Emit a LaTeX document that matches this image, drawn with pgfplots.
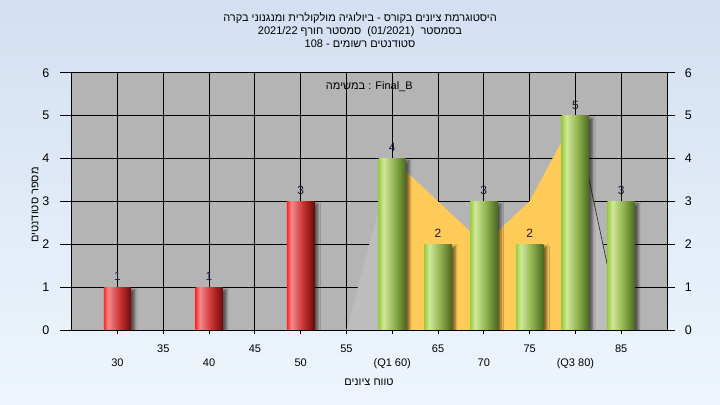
\documentclass[border=0pt]{standalone}
\usepackage{pgfplots}
\pgfplotsset{compat=1.18}
\usepackage{fontspec}
\setmainfont{Liberation Sans}
\newfontfamily\hebfont[Script=Hebrew]{Liberation Sans}
\TeXXeTstate=1
\usetikzlibrary{shadows.blur}

\definecolor{bgtop}{HTML}{D3E0F2}
\definecolor{bgbot}{HTML}{EEF5FC}
\definecolor{plotbg}{HTML}{B4B4B4}
\definecolor{areagray}{HTML}{BDBDBD}
\definecolor{areaorange}{HTML}{FFCB58}
\definecolor{valc}{HTML}{1A1A3A}
\definecolor{rA}{HTML}{FF2525}
\definecolor{rB}{HTML}{F58A8A}
\definecolor{rC}{HTML}{C83030}
\definecolor{rD}{HTML}{6A0A0A}
\definecolor{gA}{HTML}{9CCB40}
\definecolor{gB}{HTML}{D0E898}
\definecolor{gC}{HTML}{8CAF4C}
\definecolor{gD}{HTML}{4A681E}

% cylinder-like horizontal shadings for the bars (visible part 25bp..75bp)
\pgfdeclarehorizontalshading{redbar}{100bp}{color(0bp)=(rA); color(25bp)=(rA); color(33bp)=(rB); color(55bp)=(rC); color(75bp)=(rD); color(100bp)=(rD)}
\pgfdeclarehorizontalshading{greenbar}{100bp}{color(0bp)=(gA); color(25bp)=(gA); color(34bp)=(gB); color(55bp)=(gC); color(75bp)=(gD); color(100bp)=(gD)}

\pgfplotsset{
  cylbar/.style={ybar, bar shift=0pt, bar width=3, draw=none, shade, shading=#1,
    blur shadow={shadow xshift=3.5bp, shadow yshift=-2.5bp, shadow blur radius=2.5bp, shadow opacity=55}},
}

\begin{document}
\begin{tikzpicture}
% page background
\shade[top color=bgtop, bottom color=bgbot] (0bp,0bp) rectangle (720bp,405bp);

% title
\node[anchor=base, font=\fontsize{11bp}{13bp}\selectfont\hebfont, text=black] at (360bp,383bp)
  {\beginR היסטוגרמת ציונים בקורס - ביולוגיה מולקולרית ומנגנוני בקרה\endR};
\node[anchor=base, font=\fontsize{11bp}{13bp}\selectfont\hebfont, text=black] at (360bp,370bp)
  {\beginR בסמסטר \ \beginL(01/2021)\endL{} \ סמסטר חורף \beginL2021/22\endL\endR};
\node[anchor=base, font=\fontsize{11bp}{13bp}\selectfont\hebfont, text=black] at (360bp,357bp)
  {\beginR סטודנטים רשומים - \beginL108\endL\endR};

% axis titles
\node[rotate=90, anchor=center, font=\fontsize{11bp}{13bp}\selectfont\hebfont] at (35bp,200bp)
  {\beginR מספר סטודנטים\endR};
\node[anchor=base, font=\fontsize{11bp}{13bp}\selectfont\hebfont] at (369bp,20bp)
  {\beginR טווח ציונים\endR};

\begin{axis}[
  at={(71.7bp,75bp)}, anchor=south west,
  scale only axis, width=595.3bp, height=257.3bp,
  xmin=25, xmax=90, ymin=0, ymax=6,
  axis background/.style={fill=plotbg},
  axis line style={black, line width=0.9bp},
  grid=major,
  major grid style={black, line width=0.9bp},
  tick align=outside,
  xtick pos=bottom,
  major tick length=4bp,
  every tick/.style={black, line width=0.9bp},
  ytick={0,1,...,6},
  yticklabels={},
  ytick style={draw=none},
  xtick={35,45,55,65,75,85},
  xticklabels={35,45,55,65,75,85},
  extra x ticks={30,40,50,60,70,80},
  extra x tick labels={30,40,50,{(Q1 60)},70,{(Q3 80)}},
  extra x tick style={xticklabel style={yshift=-13.5bp}},
  xticklabel style={anchor=base, yshift=-19bp, font=\fontsize{11bp}{13bp}\selectfont, text=black},
  /pgf/number format/assume math mode=true,
]
% shaded regions behind the bars
\addplot[fill=areagray, draw=none] coordinates {(55,0) (60,4)} \closedcycle;
\addplot[fill=areaorange, draw=none] coordinates {(60,4) (65,3) (70,2) (75,3) (80,5)} \closedcycle;
\addplot[fill=areagray, draw=none] coordinates {(80,5) (85,0)} \closedcycle;
\addplot[draw=black!80, line width=0.7bp] coordinates {(80,5) (85,0)};

% bars, one path each so every bar gets its own cylinder shading
\addplot[cylbar=redbar] coordinates {(30,1)};
\addplot[cylbar=redbar] coordinates {(40,1)};
\addplot[cylbar=redbar] coordinates {(50,3)};
\addplot[cylbar=greenbar] coordinates {(60,4)};
\addplot[cylbar=greenbar] coordinates {(65,2)};
\addplot[cylbar=greenbar] coordinates {(70,3)};
\addplot[cylbar=greenbar] coordinates {(75,2)};
\addplot[cylbar=greenbar] coordinates {(80,5)};
\addplot[cylbar=greenbar] coordinates {(85,3)};

% value labels
\addplot[draw=none, mark=none, nodes near coords, point meta=explicit symbolic,
  every node near coord/.style={anchor=base, yshift=6.5bp, inner sep=0pt, text=valc,
    font=\fontsize{12bp}{14bp}\selectfont}]
  coordinates {(30,1)[1] (40,1)[1] (50,3)[3] (60,4)[4] (65,2)[2] (70,3)[3] (75,2)[2] (80,5)[5] (85,3)[3]};

\node[anchor=base, font=\fontsize{11bp}{13bp}\selectfont] at (rel axis cs:0.5,0.933)
  {{\hebfont\beginR במשימה\endR} : Final\_B};
\end{axis}

% left value axis
\begin{axis}[
  at={(71.7bp,75bp)}, anchor=south west,
  scale only axis, width=595.3bp, height=257.3bp,
  xmin=25, xmax=90, ymin=0, ymax=6,
  hide x axis, axis y line*=left,
  axis line style={black, line width=0.9bp},
  tick align=outside, major tick length=11.7bp,
  every tick/.style={black, line width=0.9bp},
  ytick={0,1,...,6},
  yticklabel style={anchor=east, inner sep=0pt, xshift=-10.5bp, font=\fontsize{12.5bp}{14bp}\selectfont},
  /pgf/number format/assume math mode=true,
]
\addplot[draw=none] coordinates {(25,0)};
\end{axis}

% right value axis
\begin{axis}[
  at={(71.7bp,75bp)}, anchor=south west,
  scale only axis, width=595.3bp, height=257.3bp,
  xmin=25, xmax=90, ymin=0, ymax=6,
  hide x axis, axis y line*=right,
  axis line style={black, line width=0.9bp},
  tick align=outside, major tick length=8bp,
  every tick/.style={black, line width=0.9bp},
  ytick={0,1,...,6},
  yticklabel style={anchor=west, inner sep=0pt, xshift=9.7bp, font=\fontsize{12.5bp}{14bp}\selectfont},
  /pgf/number format/assume math mode=true,
]
\addplot[draw=none] coordinates {(25,0)};
\end{axis}

\pgfresetboundingbox
\path[use as bounding box] (0bp,0bp) rectangle (720bp,405bp);
\end{tikzpicture}
\end{document}
